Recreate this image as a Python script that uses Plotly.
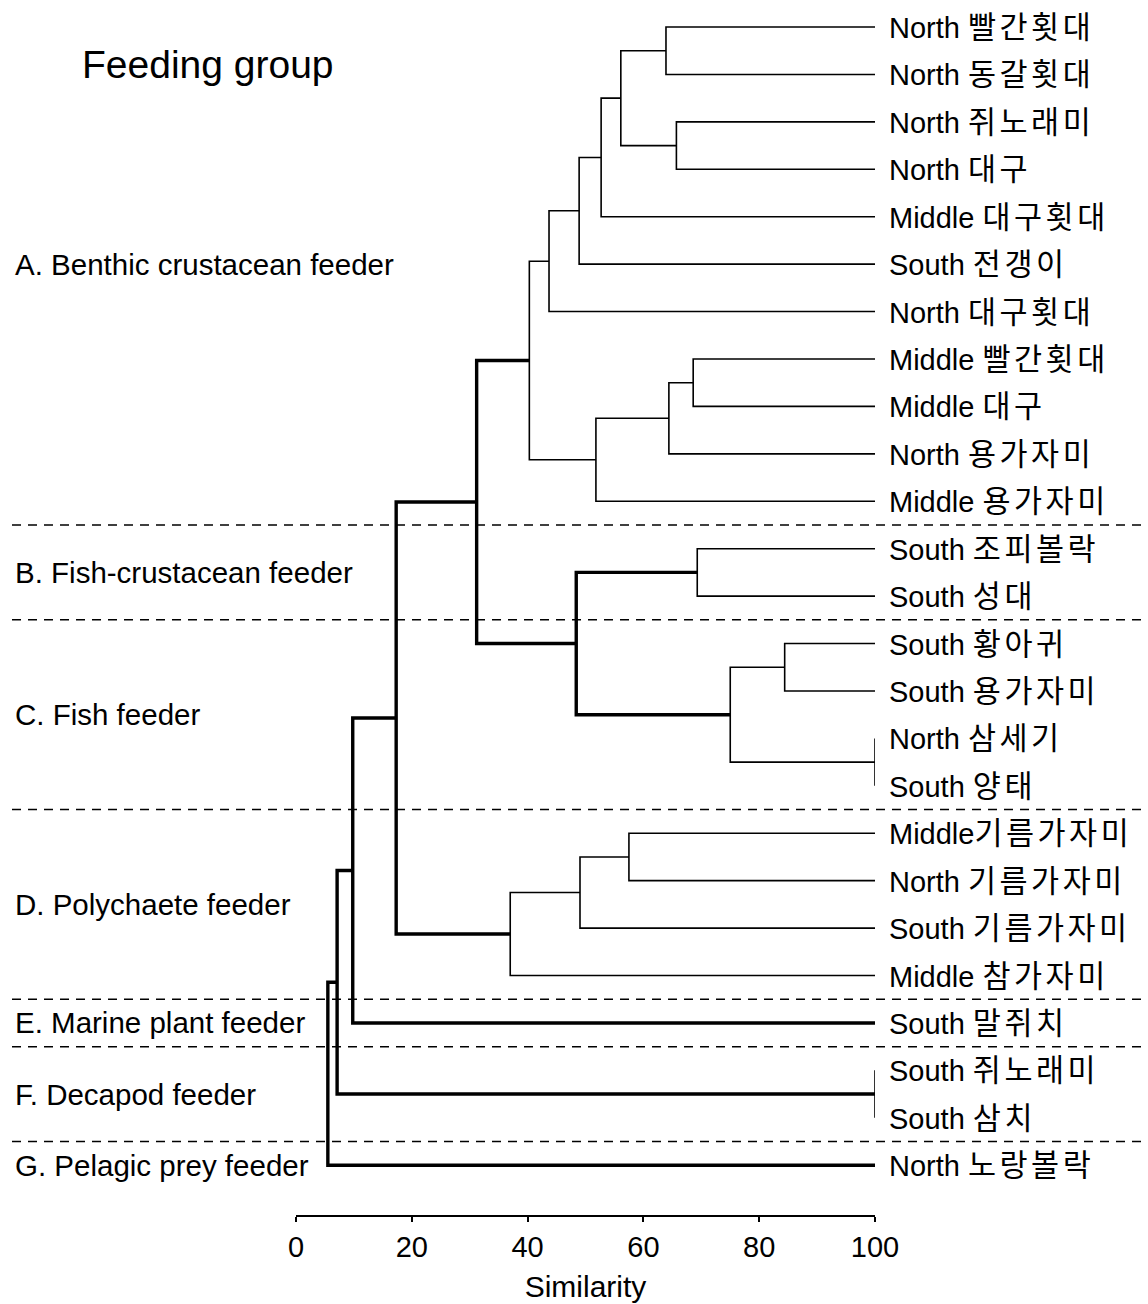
import plotly.graph_objects as go

# ---------------- data ----------------
leaf_regions = ["North", "North", "North", "North", "Middle", "South", "North",
                "Middle", "Middle", "North", "Middle", "South", "South", "South",
                "South", "North", "South", "Middle", "North", "South", "Middle",
                "South", "South", "South", "North"]
leaf_species = ["빨간횟대", "동갈횟대", "쥐노래미", "대구", "대구횟대", "전갱이", "대구횟대",
                "빨간횟대", "대구", "용가자미", "용가자미", "조피볼락", "성대", "황아귀",
                "용가자미", "삼세기", "양태", "기름가자미", "기름가자미", "기름가자미", "참가자미",
                "말쥐치", "쥐노래미", "삼치", "노랑볼락"]
leaf_separators = [" "] * 17 + [""] + [" "] * 7
leaf_groups = ["A"] * 11 + ["B"] * 2 + ["C"] * 4 + ["D"] * 4 + ["E"] + ["F"] * 2 + ["G"]

group_letters = ["A", "B", "C", "D", "E", "F", "G"]
group_names = ["A. Benthic crustacean feeder", "B. Fish-crustacean feeder",
               "C. Fish feeder", "D. Polychaete feeder", "E. Marine plant feeder",
               "F. Decapod feeder", "G. Pelagic prey feeder"]

# merges: node ids 0..24 are leaves, new nodes numbered from 25 in order
merge_left = [0, 2, 25, 27, 28, 29, 7, 31, 32, 30, 11, 15, 13, 37, 35, 34, 17, 41, 42, 40, 44, 22, 45, 47]
merge_right = [1, 3, 26, 4, 5, 6, 8, 9, 10, 33, 12, 16, 14, 36, 38, 39, 18, 19, 20, 43, 21, 23, 46, 24]
merge_similarity = [63.9, 65.7, 56.1, 52.7, 48.9, 43.7, 68.6, 64.4, 51.8, 40.3, 69.3, 100.0,
                    84.4, 75.0, 48.4, 31.2, 57.5, 49.05, 37.0, 17.3, 9.8, 100.0, 7.1, 5.5]

x_ticks = [0, 20, 40, 60, 80, 100]

# ---------------- build dendrogram geometry ----------------
n_leaves = len(leaf_species)
node_x = [100.0] * n_leaves
node_y = [float(i + 1) for i in range(n_leaves)]
node_groups = [{g} for g in leaf_groups]

thin_x, thin_y, bold_x, bold_y = [], [], [], []
for a, b, s in zip(merge_left, merge_right, merge_similarity):
    xs = [node_x[a], s, s, node_x[b], None]
    ys = [node_y[a], node_y[a], node_y[b], node_y[b], None]
    if len(node_groups[a] | node_groups[b]) > 1:
        bold_x += xs
        bold_y += ys
    else:
        thin_x += xs
        thin_y += ys
    node_x.append(s)
    node_y.append((node_y[a] + node_y[b]) / 2)
    node_groups.append(node_groups[a] | node_groups[b])

FONT = "Arial, 'Liberation Sans', 'Noto Sans CJK KR', sans-serif"

fig = go.Figure()
fig.add_trace(go.Scatter(x=thin_x, y=thin_y, mode="lines",
                         line=dict(color="black", width=1.6),
                         cliponaxis=False, hoverinfo="skip", showlegend=False))
fig.add_trace(go.Scatter(x=bold_x, y=bold_y, mode="lines",
                         line=dict(color="black", width=3.4),
                         cliponaxis=False, hoverinfo="skip", showlegend=False))

annotations = []
# leaf labels
for i, (r, sep, sp) in enumerate(zip(leaf_regions, leaf_separators, leaf_species)):
    annotations.append(dict(
        x=100, y=i + 1, xref="x", yref="y", xanchor="left", yanchor="middle",
        xshift=12, showarrow=False,
        text=f"{r}{sep}<span style='font-size:30.5px;letter-spacing:3.5px'>{sp}</span>",
        font=dict(family=FONT, size=29, color="black")))

# group labels and separators
L0 = -(296 - 13) / 579.0
shapes = []
for letter, name in zip(group_letters, group_names):
    idx = [i + 1 for i, g in enumerate(leaf_groups) if g == letter]
    ymid = (min(idx) + max(idx)) / 2
    annotations.append(dict(
        x=L0, y=ymid, xref="paper", yref="y", xanchor="left", yanchor="middle",
        showarrow=False, text=name, font=dict(family=FONT, size=29.5, color="black")))
for i in range(n_leaves - 1):
    if leaf_groups[i] != leaf_groups[i + 1]:
        shapes.append(dict(type="line", xref="paper", yref="y",
                           x0=-(296 - 12) / 579.0, x1=(1141 - 296) / 579.0,
                           y0=i + 1.5, y1=i + 1.5,
                           line=dict(color="black", width=1.5, dash="9px,7px")))

annotations.append(dict(
    x=-(296 - 80) / 579.0, y=1 - 64 / 1215.0, xref="paper", yref="paper",
    xanchor="left", yanchor="middle", showarrow=False, text="Feeding group",
    font=dict(family=FONT, size=39, color="black")))

fig.update_layout(
    width=1148, height=1304,
    margin=dict(l=296, r=273, t=0, b=89, pad=0),
    paper_bgcolor="white", plot_bgcolor="white",
    showlegend=False,
    annotations=annotations, shapes=shapes,
    font=dict(family=FONT, color="black"),
)
fig.update_xaxes(
    range=[0, 100], tickvals=x_ticks, ticktext=[str(t) for t in x_ticks],
    showline=True, linecolor="black", linewidth=1.6,
    ticks="outside", ticklen=5, tickwidth=1.6, tickcolor="black",
    tickfont=dict(family=FONT, size=29, color="black"),
    showgrid=False, zeroline=False, automargin=False,
    title=dict(text="Similarity", font=dict(family=FONT, size=30, color="black"), standoff=14),
)
fig.update_yaxes(range=[26.05, 0.43], visible=False, showgrid=False, zeroline=False)

fig.write_html("out.html")
